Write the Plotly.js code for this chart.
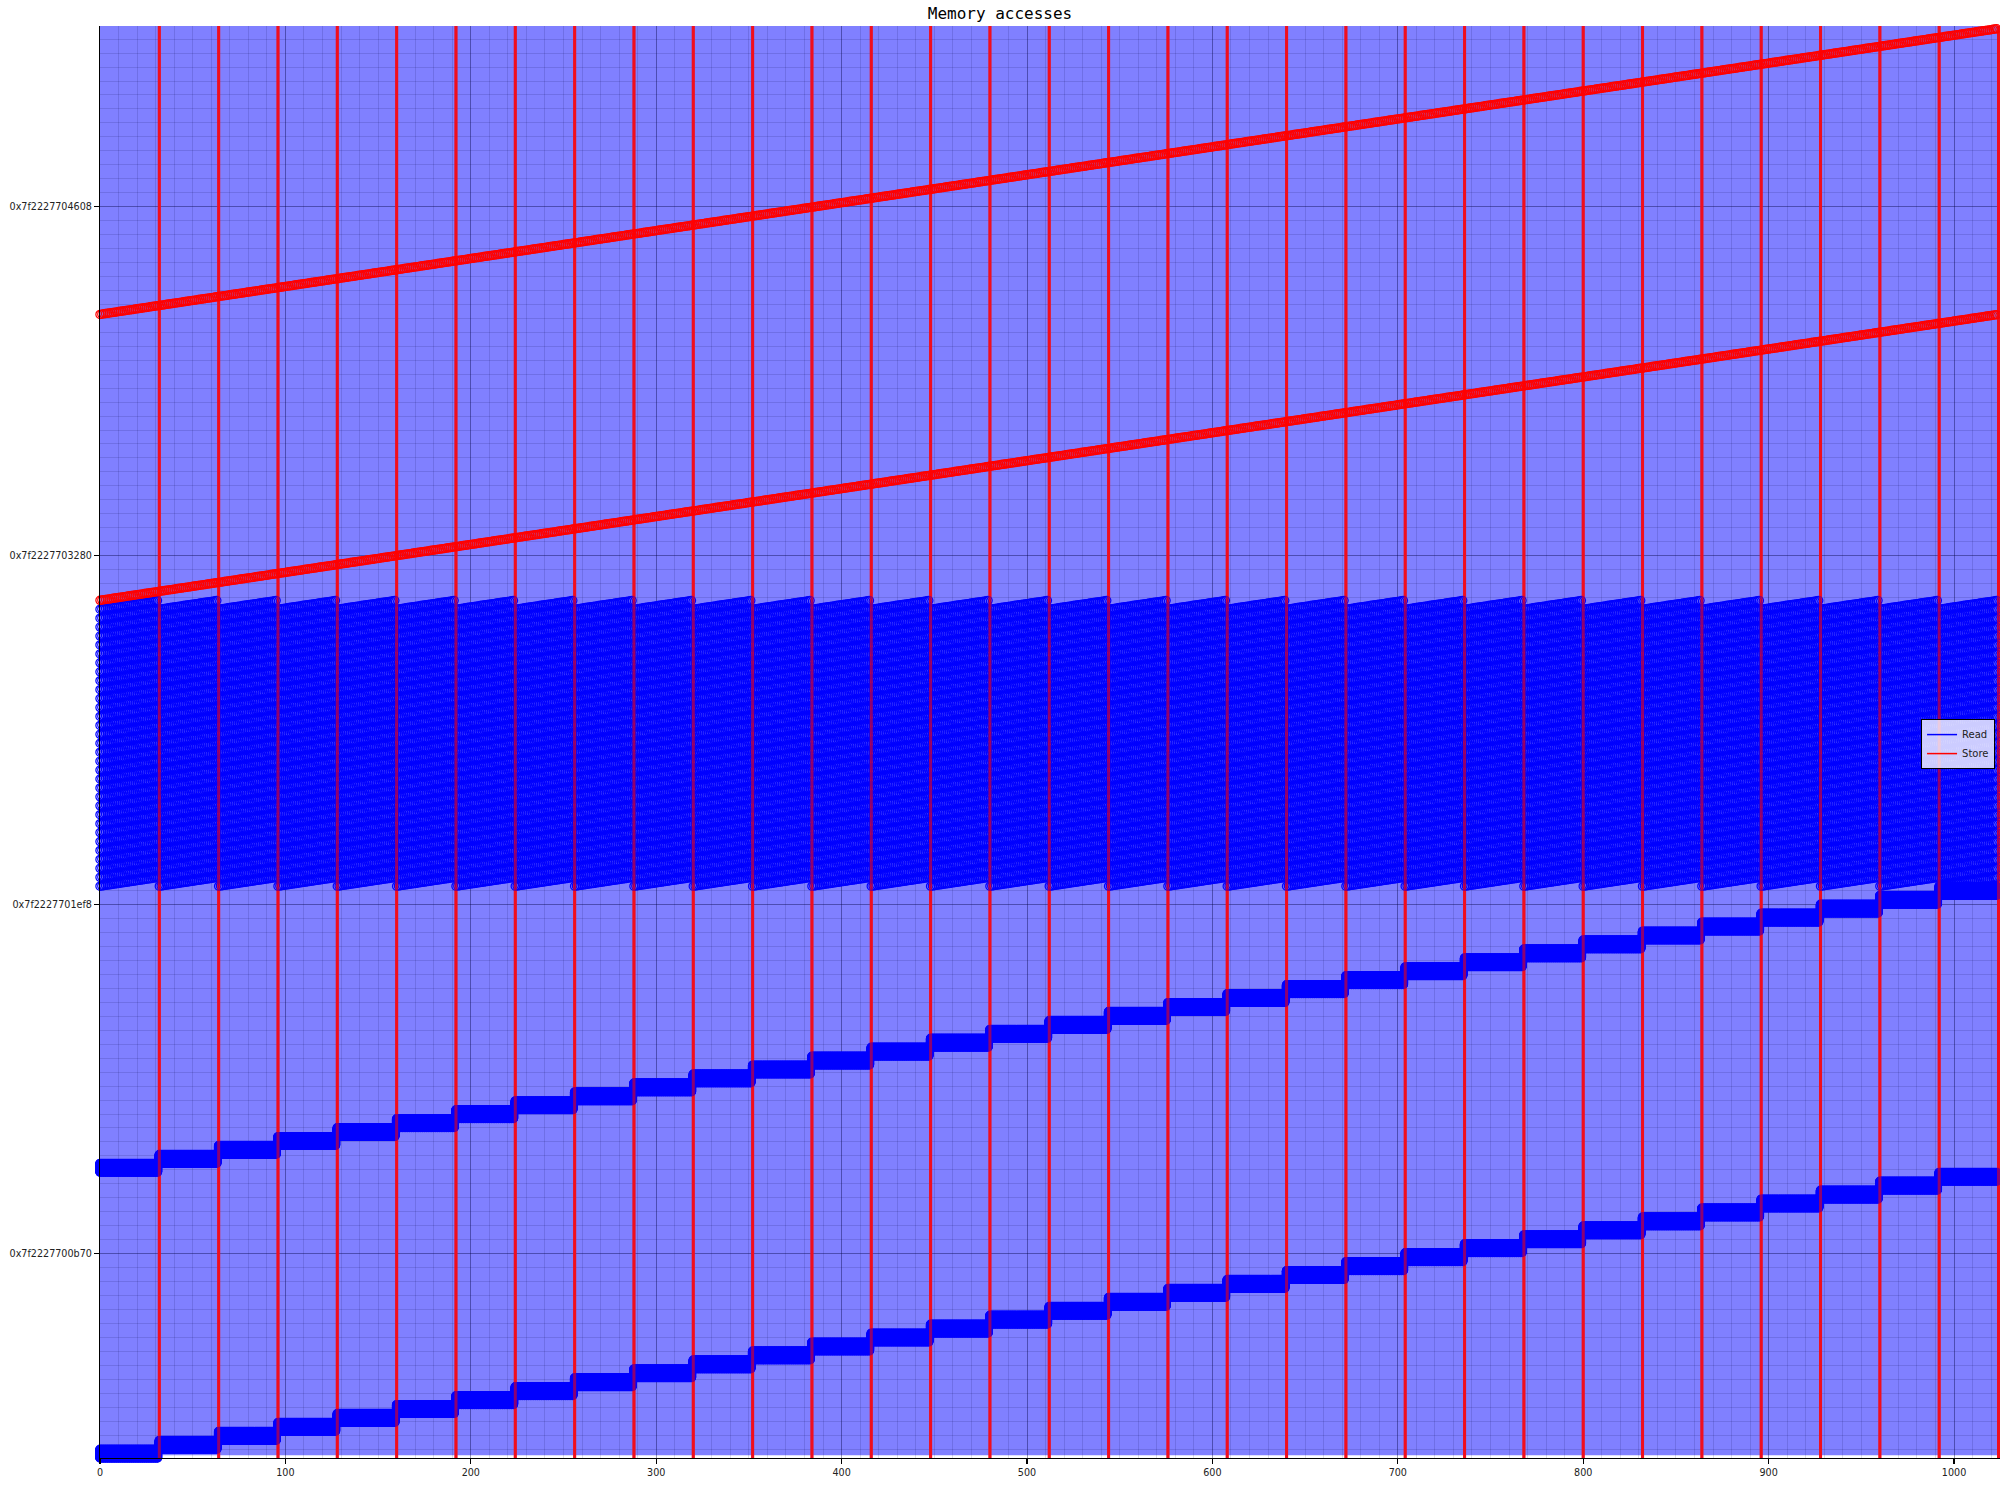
<!DOCTYPE html>
<html><head><meta charset="utf-8">
<script src="https://cdn.plot.ly/plotly-3.0.1.min.js"></script>
<style>html,body{margin:0;padding:0;background:#fff}#chart{width:2000px;height:1500px}</style>
</head><body><div id="chart"></div>
<script>
// ---------------- data ----------------
// Memory trace of a 32x32 matrix kernel on 4-byte elements.
const matrixSize = 32;
const elementBytes = 4;
const rowReadBases = ['0x7f2227700000', '0x7f2227701000']; // read along a row:    X[i][k]
const colReadBases = ['0x7f2227702000'];                   // read down a column:  Y[k][j]
const storeBases   = ['0x7f2227703000', '0x7f2227704000']; // written once per (i, j)
const rowBoundaries = [32, 64, 96, 128, 160, 192, 224, 256, 288, 320, 352, 384, 416, 448, 480, 512,
                       544, 576, 608, 640, 672, 704, 736, 768, 800, 832, 864, 896, 928, 960, 992, 1024];
const xTickVals = [0, 100, 200, 300, 400, 500, 600, 700, 800, 900, 1000];
const yTickLabels = ['0x7f2227700b70', '0x7f2227701ef8', '0x7f2227703280', '0x7f2227704608'];
const yRangeHex = ['0x7f2227700000', '0x7f2227705024'];
const xRange = [0, 1024.8];
const seriesNames = ['Read', 'Store'];

// ---------------- build the access trace ----------------
const hex = h => parseInt(h, 16);
const N = matrixSize, E = elementBytes, rowBytes = N * E;
const readX = [], readY = [], storeX = [], storeY = [];
for (let i = 0; i < N; i++) {
  for (let j = 0; j < N; j++) {
    const t = i * N + j;
    for (let k = 0; k < N; k++) {
      rowReadBases.forEach(b => { readX.push(t); readY.push(hex(b) + i * rowBytes + k * E); });
      colReadBases.forEach(b => { readX.push(t); readY.push(hex(b) + k * rowBytes + j * E); });
    }
    storeBases.forEach(b => { storeX.push(t); storeY.push(hex(b) + i * rowBytes + j * E); });
  }
}
const yMin = hex(yRangeHex[0]), yMax = hex(yRangeHex[1]);
const vX = [], vY = [];
rowBoundaries.forEach(x => { vX.push(x, x, null); vY.push(yMin, yMax, null); });

const tickFont = {family: 'DejaVu Sans', size: 9.6, color: '#222'};
const traces = [
  {type: 'scatter', mode: 'lines', x: vX, y: vY, hoverinfo: 'skip', showlegend: false,
   line: {color: '#df2040', width: 3}},
  {type: 'scatter', mode: 'markers', x: readX, y: readY, showlegend: false, cliponaxis: false, hoverinfo: 'skip',
   marker: {symbol: 'circle-open', size: 8.3, color: '#0000ff', line: {width: 1.2, color: '#0000ff'}}},
  {type: 'scatter', mode: 'lines', x: vX, y: vY, hoverinfo: 'skip', showlegend: false,
   line: {color: 'rgba(255,0,0,0.55)', width: 3}},
  {type: 'scatter', mode: 'markers', x: storeX, y: storeY, showlegend: false, cliponaxis: false, hoverinfo: 'skip',
   marker: {symbol: 'circle-open', size: 8.3, color: '#ff0000', line: {width: 1.2, color: '#ff0000'}}},
  {type: 'scatter', mode: 'lines', x: [null], y: [null], name: seriesNames[0], line: {color: '#0000ff', width: 1.5}},
  {type: 'scatter', mode: 'lines', x: [null], y: [null], name: seriesNames[1], line: {color: '#ff0000', width: 1.5}}
];

const layout = {
  width: 2000, height: 1500,
  margin: {l: 100, r: 0, t: 26, b: 42, pad: 0},
  paper_bgcolor: '#ffffff', plot_bgcolor: '#ffffff',
  showlegend: true,
  title: {text: 'Memory accesses', x: 0.5, xref: 'container', xanchor: 'center',
          y: 1 - 13 / 1500, yref: 'container', yanchor: 'middle',
          font: {family: 'DejaVu Sans Mono', size: 16, color: '#000'}},
  xaxis: {range: xRange, tickmode: 'array', tickvals: xTickVals, ticktext: xTickVals.map(String),
          showline: true, linecolor: '#000', linewidth: 1.2, zeroline: false,
          ticks: 'outside', ticklen: 5, tickwidth: 1.2, tickcolor: '#000', tickfont: tickFont,
          showgrid: true, gridcolor: 'rgba(0,0,60,0.3)', gridwidth: 1,
          minor: {tickmode: 'linear', tick0: 0, dtick: 10, showgrid: true, gridcolor: 'rgba(0,0,60,0.13)', gridwidth: 1}},
  yaxis: {range: [yMin, yMax], tickmode: 'array', tickvals: yTickLabels.map(hex), ticktext: yTickLabels,
          showline: true, linecolor: '#000', linewidth: 1.2, zeroline: false,
          ticks: 'outside', ticklen: 5, tickwidth: 1.2, tickcolor: '#000', tickfont: tickFont,
          showgrid: true, gridcolor: 'rgba(0,0,60,0.3)', gridwidth: 1,
          minor: {tickmode: 'linear', tick0: 0, dtick: 200, showgrid: true, gridcolor: 'rgba(0,0,60,0.13)', gridwidth: 1}},
  shapes: [{type: 'rect', xref: 'paper', yref: 'paper', x0: 0, x1: 1, y0: 0.002, y1: 1, layer: 'below',
            line: {width: 0}, fillcolor: '#8080ff'}],
  legend: {x: 0.9974, xanchor: 'right', y: 0.516, yanchor: 'top',
           bgcolor: 'rgba(255,255,255,0.8)', bordercolor: '#000', borderwidth: 1,
           font: {family: 'DejaVu Sans', size: 10, color: '#222'}, tracegroupgap: 0}
};

Plotly.newPlot('chart', traces, layout, {displayModeBar: false, staticPlot: true});
</script></body></html>
